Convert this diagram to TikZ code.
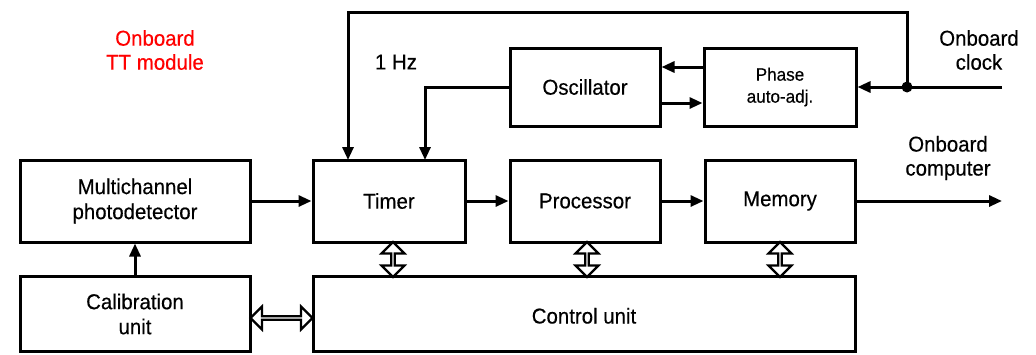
\documentclass[tikz,border=0pt]{standalone}
\usepackage{fontspec}
\setmainfont{Liberation Sans}[FakeBold=0.4,FakeStretch=0.95]
\usetikzlibrary{arrows.meta,shapes.arrows}
\definecolor{tred}{RGB}{255,0,0}
\begin{document}
\begin{tikzpicture}[x=1pt,y=-1pt,
  box/.style={draw,line width=3pt,inner sep=0pt,align=center,font=\fontsize{21.5}{25}\selectfont},
  conn/.style={line width=3pt,-{Triangle[length=13pt,width=11pt]}},
  dbl/.style={double arrow,draw,line width=2.2pt,fill=white,inner sep=0pt,minimum width=23pt,double arrow head extend=6.5pt},
  lbl/.style={font=\fontsize{21.5}{24}\selectfont,align=center}]
\useasboundingbox (0,0) rectangle (1036,354);
\node[box,minimum width=230pt,minimum height=82pt] (photo) at (135,201) {Multichannel\\photodetector};
\node[box,minimum width=230pt,minimum height=75pt] (calib) at (135,314) {Calibration\\unit};
\node[box,minimum width=152pt,minimum height=82pt] (timer) at (389,201) {Timer};
\node[box,minimum width=150pt,minimum height=82pt] (proc) at (585,201) {Processor};
\node[box,minimum width=150pt,minimum height=82pt] (mem) at (780,201) {Memory};
\node[box,minimum width=150pt,minimum height=78pt] (osc) at (585,87) {Oscillator};
\node[box,minimum width=152pt,minimum height=78pt,font=\fontsize{18}{22}\selectfont] (phase) at (780,87) {Phase\\auto-adj.};
\node[box,minimum width=542pt,minimum height=75pt,text height=24pt,text depth=5pt] (ctrl) at (584,314) {Control unit};
% labels
\node[lbl,text=tred] (tt) at (155,50) {Onboard\\TT module};
\node[lbl] (hz) at (396,62) {1 Hz};
\node[lbl] (clk) at (979,50) {Onboard\\clock};
\node[lbl] (comp) at (948,158) {Onboard\\computer};
% coordinates
\coordinate (clkin) at (1002,87);
\coordinate (jn) at (907,87);
\coordinate (compout) at (1002,201);
% connectors
\draw[conn] (clkin) -- (phase.east |- clkin);
\fill (jn) circle (5.5pt);
\draw[conn] (jn) -- (907,12) -- (348,12) -- (348,160);
\draw[conn] (phase.west |- 0,67) -- (osc.east |- 0,67);
\draw[conn] (osc.east |- 0,103) -- (phase.west |- 0,103);
\draw[conn] (osc.west) -- (425,87) -- (425,160);
\draw[conn] (photo.east) -- (timer.west);
\draw[conn] (timer.east) -- (proc.west);
\draw[conn] (proc.east) -- (mem.west);
\draw[conn] (mem.east) -- (compout);
\draw[conn] (calib.north) -- (photo.south);
% double arrows
\node[dbl,rotate=90,minimum height=35pt] (d1) at (393,259.5) {};
\node[dbl,rotate=90,minimum height=35pt] (d2) at (587,259.5) {};
\node[dbl,rotate=90,minimum height=35pt] (d3) at (780,259.5) {};
\node[dbl,minimum height=62pt] (d4) at (281.5,318) {};
\end{tikzpicture}
\end{document}
